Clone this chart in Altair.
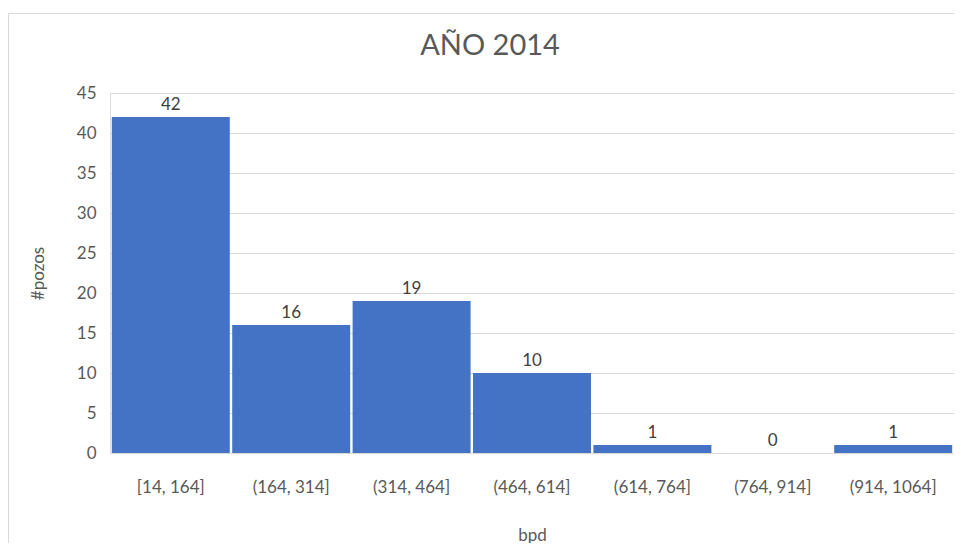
import altair as alt
import pandas as pd

title_text = "AÑO 2014"
categories = ["[14, 164]", "(164, 314]", "(314, 464]", "(464, 614]",
              "(614, 764]", "(764, 914]", "(914, 1064]"]
counts = [42, 16, 19, 10, 1, 0, 1]
y_ticks = [0, 5, 10, 15, 20, 25, 30, 35, 40, 45]

df = pd.DataFrame({"bpd": categories, "pozos": counts})

FONT = "Lato"
GRAY = "#595959"

x = alt.X("bpd:N", sort=categories,
          scale=alt.Scale(paddingInner=0.02, paddingOuter=0.015),
          axis=alt.Axis(title="bpd", labelAngle=0, labelPadding=26,
                        labelFontSize=17, labelColor=GRAY, titleFontSize=17,
                        titleColor=GRAY, titleFontWeight="normal", titleY=82,
                        titleBaseline="middle", ticks=False, domainColor="#d9d9d9",
                        labelFont=FONT, titleFont=FONT, labelOverlap=False))
y = alt.Y("pozos:Q", scale=alt.Scale(domain=[0, 45], nice=False),
          axis=alt.Axis(title="#pozos", values=y_ticks, ticks=False,
                        domain=False, gridColor="#d9d9d9", labelPadding=14,
                        labelFontSize=17, labelColor=GRAY, titleFontSize=17,
                        titleColor=GRAY, titleFontWeight="normal", titleX=-72,
                        titleY=180, titleAngle=-90, titleAlign="center",
                        titleBaseline="middle", labelFont=FONT, titleFont=FONT,
                        labelOverlap=False))

base = alt.Chart(df).encode(x=x, y=y)
bars = base.mark_bar(color="#4472C4")
labels = base.mark_text(baseline="bottom", dy=-3, fontSize=17,
                        color="#404040", font=FONT).encode(text="pozos:Q")

one = alt.Data(values=[{}])
frame = alt.Chart(one).mark_rect(
    fill=None, stroke="#d9d9d9", strokeWidth=1).encode(
    x=alt.value(-101.5), x2=alt.value(900), y=alt.value(-79.5), y2=alt.value(500))
title = alt.Chart(one).mark_text(
    text=title_text, fontSize=29, font=FONT, color=GRAY, align="center",
    baseline="middle").encode(x=alt.value(380), y=alt.value(-47))

chart = (frame + bars + labels + title).properties(
    width=844, height=360,
    autosize=alt.AutoSizeParams(type="none"),
    padding={"left": 102, "top": 85, "right": 0, "bottom": 90},
).configure_view(stroke=None).configure(background="white")

chart.save("out.html", embed_options={"renderer": "svg", "actions": False})
